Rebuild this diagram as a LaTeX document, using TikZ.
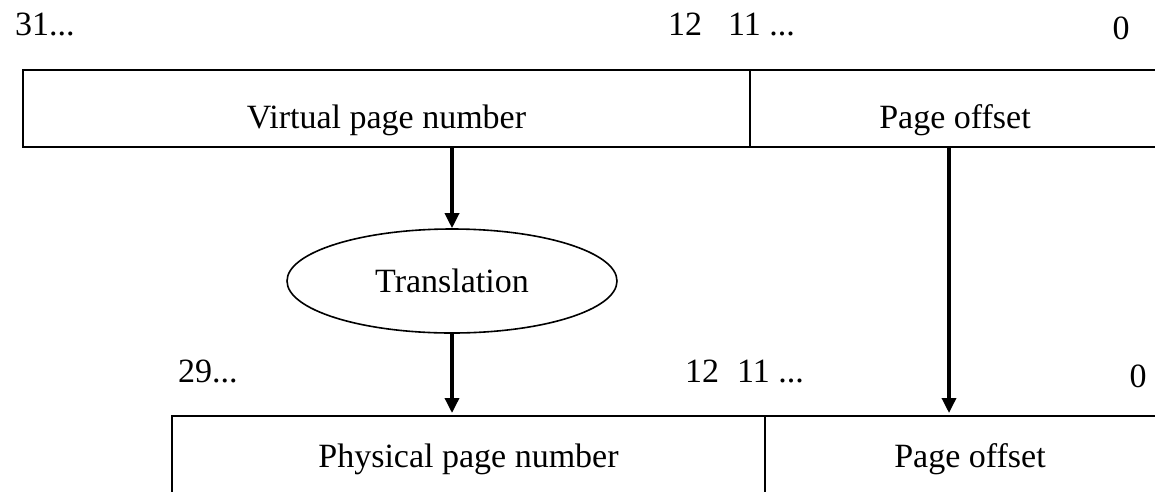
\documentclass[tikz,border=0pt]{standalone}
\usepackage{fontspec}
\setmainfont{Liberation Serif}
\usetikzlibrary{arrows.meta,shapes.geometric,positioning}

\tikzset{
    field/.style={draw, rectangle, line width=2.4pt, inner sep=0pt, outer sep=0pt, text depth=0pt},
    bitno/.style={inner sep=0pt, anchor=base west},
    arr/.style={line width=3.4pt, -{Triangle[length=15pt,width=14pt]}}
}

\begin{document}
\begin{tikzpicture}[x=1pt, y=-1pt, font=\fontsize{34}{40}\selectfont]
    \useasboundingbox (0,0) rectangle (1155,491);
    \clip (0,0) rectangle (1155,491);

    % Virtual address
    \node[field, minimum width=727, minimum height=77, text height=39pt] (vpn) at (386.5,108.5) {Virtual page number};
    \node[field, minimum width=410, minimum height=77, text height=39pt, right=0pt of vpn] (voff) {Page offset};

    % Bit numbers above it
    \node[bitno] (v31) at (15,35) {31...};
    \node[bitno] (v12) at (668,35) {12};
    \node[bitno] (v11) at (728,35) {11 ...};
    \node[inner sep=0pt, anchor=base] (v0) at (1121,39) {0};

    % Translation step
    \node[draw, ellipse, line width=1.6pt, inner sep=0pt, minimum width=330, minimum height=104] (trans) at (452,281) {Translation};

    % Physical address
    \node[field, minimum width=593, minimum height=84, text height=18pt] (ppn) at (468.5,458) {Physical page number};
    \node[field, minimum width=410, minimum height=84, text height=18pt, right=0pt of ppn] (poff) {Page offset};

    % Bit numbers above it
    \node[bitno] (p29) at (178,382) {29...};
    \node[bitno] (p12) at (685,382) {12};
    \node[bitno] (p11) at (737,382) {11 ...};
    \node[inner sep=0pt, anchor=base] (p0) at (1138,387) {0};

    % Arrows
    \coordinate (offx) at (949,0);
    \draw[arr] (vpn.south -| trans.north) -- (trans.north);
    \draw[arr, shorten >=3pt] (trans.south) -- (ppn.north -| trans.south);
    \draw[arr, shorten >=3pt] (voff.south -| offx) -- (poff.north -| offx);
\end{tikzpicture}
\end{document}
